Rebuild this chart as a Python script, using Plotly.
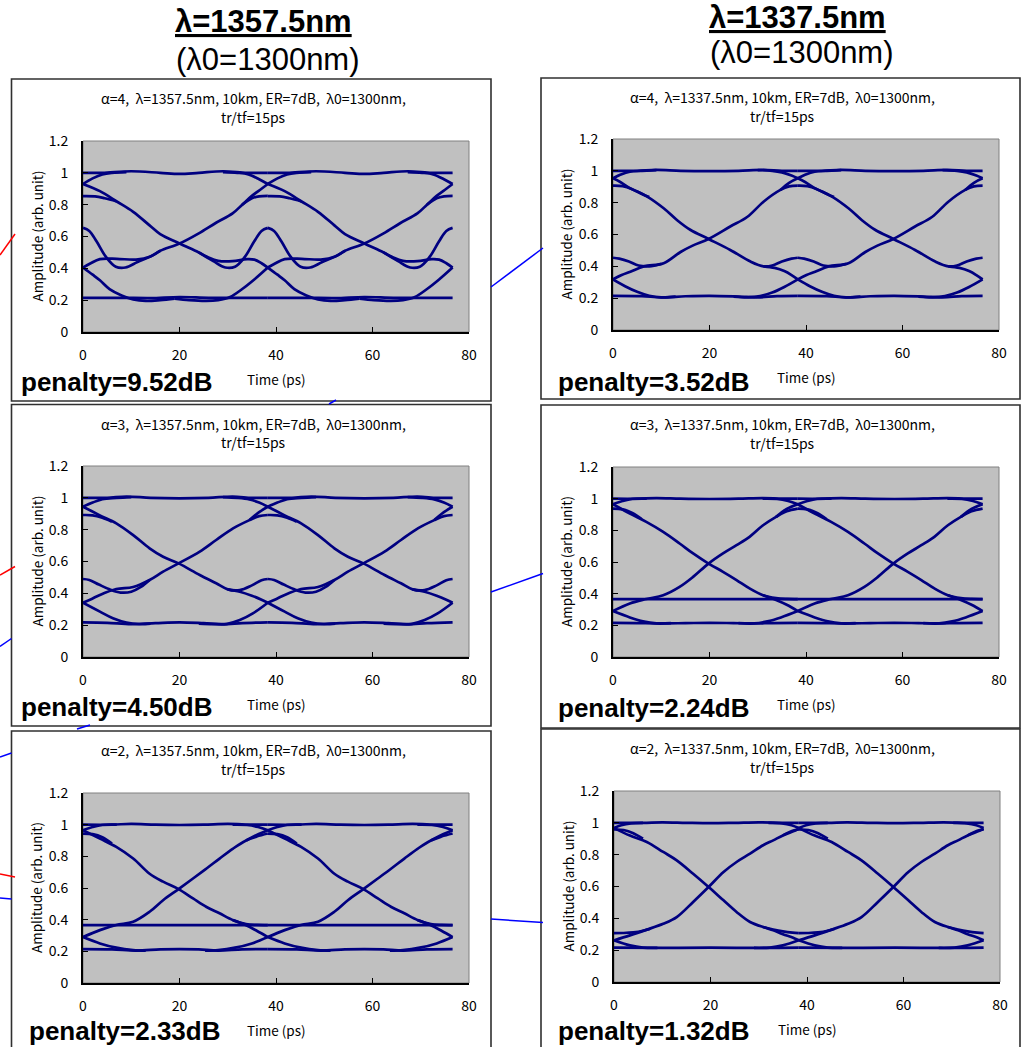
import plotly.graph_objects as go

# ---------------------------------------------------------------- data
UI = 38.3  # one bit slot (ps); each eye shows two slots

ALPHAS = [4, 4, 3, 3, 2, 2]
WAVELENGTHS = ["1357.5", "1337.5", "1357.5", "1337.5", "1357.5", "1337.5"]
PENALTIES = ["9.52", "3.52", "4.50", "2.24", "2.33", "1.32"]
COLUMN_HEADS = ["1357.5", "1337.5"]

X_TICKS = [0, 20, 40, 60, 80]
Y_TICKS = [0, 0.2, 0.4, 0.6, 0.8, 1.0, 1.2]
Y_TICK_LABELS = ["0", "0.2", "0.4", "0.6", "0.8", "1", "1.2"]

# Eye traces over one bit slot: lists of (time ps, amplitude)
EYE_A4_1357 = [
    [(0, 1.0), (4, 1.0), (10, 1.01), (16, 1.0), (20, 0.993), (24, 1.0), (29, 1.01), (34, 1.0), (38.3, 1.0)],
    [(0, 0.215), (8, 0.215), (14, 0.213), (20, 0.22), (26, 0.215), (32, 0.215), (38.3, 0.215)],
    [(0, 0.93), (2, 0.965), (4, 0.99), (6, 1.0), (9, 1.005)],
    [(29, 1.005), (32, 1.0), (34.3, 0.99), (36.5, 0.96), (38.3, 0.93)],
    [(0, 0.93), (3.5, 0.885), (7, 0.82), (10.4, 0.755), (13.8, 0.67), (16, 0.615), (20, 0.556), (24, 0.5),
     (26, 0.468), (28, 0.447), (31, 0.445), (34, 0.458), (35.5, 0.455), (37, 0.432), (38.3, 0.405)],
    [(24, 0.5), (27, 0.445), (29.5, 0.405), (31.5, 0.41), (33.5, 0.47), (35.5, 0.57), (37, 0.635), (38.3, 0.654)],
    [(0, 0.654), (1.3, 0.635), (2.8, 0.57), (4.8, 0.47), (6.8, 0.41), (8.8, 0.405), (11.3, 0.44), (14, 0.475), (16, 0.51)],
    [(0, 0.854), (2.5, 0.852), (4.5, 0.84), (7, 0.82)],
    [(0, 0.405), (1.5, 0.43), (3.5, 0.458), (7, 0.46), (11, 0.455), (14, 0.475), (16, 0.51), (20, 0.556),
     (24, 0.62), (27.5, 0.685), (31, 0.745), (33, 0.8), (35, 0.855), (37, 0.9), (38.3, 0.93)],
    [(33, 0.8), (35, 0.84), (36.5, 0.852), (38.3, 0.855)],
    [(0, 0.405), (2, 0.36), (3.5, 0.325), (5.5, 0.27), (8, 0.23), (10.4, 0.205), (13, 0.195), (16, 0.2), (19, 0.21)],
    [(19, 0.21), (22, 0.2), (25.5, 0.195), (28, 0.2), (30.5, 0.22), (33, 0.27), (35.5, 0.33), (38.3, 0.405)],
]

EYE_A4_1337 = [
    [(0, 1.0), (5, 1.0), (9, 1.006), (14, 1.0), (20, 0.998), (26, 1.0), (31, 1.006), (35, 1.0), (38.3, 1.0)],
    [(0, 0.215), (6, 0.213), (10, 0.205), (15, 0.212), (20, 0.215), (26, 0.21), (30, 0.205), (34, 0.213), (38.3, 0.215)],
    [(0, 0.953), (1.5, 0.975), (3.5, 0.995), (6, 1.0), (9, 1.005)],
    [(30, 1.005), (33, 1.0), (35, 0.99), (37, 0.97), (38.3, 0.953)],
    [(0, 0.953), (1.5, 0.93), (3.6, 0.89), (7, 0.84), (10.5, 0.765), (13.3, 0.69), (16, 0.63), (19.8, 0.572),
     (24.3, 0.503), (28.5, 0.43), (31.2, 0.40), (33, 0.405), (35, 0.43), (37, 0.448), (38.3, 0.454)],
    [(31.2, 0.40), (33.5, 0.39), (35.5, 0.37), (37, 0.345), (38.3, 0.318)],
    [(0, 0.907), (2, 0.904), (4, 0.885), (6, 0.855), (7.5, 0.835)],
    [(0, 0.318), (1.8, 0.345), (3.6, 0.366), (6.4, 0.40), (10.5, 0.42), (14, 0.49), (16.5, 0.53), (19.8, 0.572),
     (24.3, 0.65), (27.8, 0.71), (31.2, 0.806), (34.7, 0.88), (36.5, 0.902), (38.3, 0.907)],
    [(34.7, 0.88), (36.5, 0.925), (38.3, 0.953)],
    [(0, 0.454), (1.3, 0.448), (3.3, 0.43), (5.3, 0.405), (7.5, 0.40), (10, 0.415)],
    [(0, 0.318), (2.5, 0.275), (5, 0.24), (7.5, 0.215), (10, 0.205), (13, 0.21)],
    [(25, 0.21), (28, 0.205), (30.5, 0.213), (33, 0.235), (35.5, 0.27), (38.3, 0.318)],
]

EYE_A3_1357 = [
    [(0, 1.0), (5, 1.0), (9, 1.008), (14, 1.0), (20, 0.997), (26, 1.0), (31, 1.008), (35, 1.0), (38.3, 1.0)],
    [(0, 0.218), (5, 0.215), (10, 0.207), (15, 0.213), (20, 0.218), (25, 0.213), (29, 0.207), (33, 0.213), (38.3, 0.218)],
    [(0, 0.944), (2, 0.97), (4, 0.992), (7, 1.0), (10, 1.005)],
    [(29, 1.005), (32, 1.0), (34.5, 0.99), (36.5, 0.97), (38.3, 0.944)],
    [(0, 0.944), (3.5, 0.89), (6.9, 0.84), (10.4, 0.766), (13.8, 0.683), (16.6, 0.63), (19.8, 0.588),
     (24.2, 0.515), (27.6, 0.463), (30, 0.425), (32.5, 0.42), (35, 0.45), (37, 0.482), (38.3, 0.49)],
    [(30, 0.425), (32.5, 0.41), (35, 0.385), (37, 0.36), (38.3, 0.341)],
    [(0, 0.892), (2, 0.89), (4, 0.875), (6, 0.85)],
    [(0, 0.341), (1.8, 0.365), (3.5, 0.39), (6.9, 0.427), (10.4, 0.44), (13.8, 0.484), (16.6, 0.536),
     (19.8, 0.588), (24.2, 0.662), (27.6, 0.735), (31.1, 0.808), (34.5, 0.86), (36.5, 0.885), (38.3, 0.892)],
    [(34.5, 0.86), (36.5, 0.91), (38.3, 0.944)],
    [(0, 0.49), (1.3, 0.484), (3.3, 0.455), (5.5, 0.425), (7.8, 0.405), (10, 0.41), (12, 0.44), (13.8, 0.484)],
    [(0, 0.341), (3.5, 0.285), (6.2, 0.243), (9, 0.216), (11.7, 0.207), (14, 0.21)],
    [(24, 0.21), (27, 0.207), (29.7, 0.207), (32.5, 0.232), (35.2, 0.274), (38.3, 0.341)],
]

EYE_A3_1337 = [
    [(0, 1.0), (5, 1.0), (9, 1.004), (14, 1.0), (20, 0.998), (26, 1.0), (31, 1.004), (35, 1.0), (38.3, 1.0)],
    [(0, 0.216), (5, 0.214), (10, 0.212), (15, 0.214), (20, 0.216), (25, 0.214), (29, 0.212), (33, 0.214), (38.3, 0.216)],
    [(0, 0.965), (2, 0.985), (4, 0.998), (7, 1.0)],
    [(31, 1.0), (34, 0.998), (36.3, 0.985), (38.3, 0.965)],
    [(0, 0.965), (3.5, 0.906), (6.9, 0.853), (10.4, 0.79), (13.8, 0.717), (16.6, 0.654), (19.8, 0.59),
     (22.8, 0.538), (25.6, 0.486), (28.3, 0.433), (31.1, 0.39), (33.8, 0.372), (36, 0.367), (38.3, 0.366)],
    [(31.1, 0.39), (33.8, 0.36), (36, 0.33), (38.3, 0.29)],
    [(0, 0.366), (38.3, 0.366)],
    [(0, 0.29), (3.5, 0.338), (6.9, 0.366), (10.4, 0.39), (13.8, 0.443), (16.6, 0.506), (19.8, 0.59),
     (22.8, 0.654), (25.6, 0.706), (28.3, 0.759), (31.1, 0.832), (33.8, 0.885), (36, 0.92), (38.3, 0.937)],
    [(33.8, 0.885), (36, 0.935), (38.3, 0.965)],
    [(0, 0.937), (2, 0.932), (4, 0.91), (6, 0.87)],
    [(0, 0.29), (3.5, 0.25), (6.2, 0.225), (9, 0.212), (12, 0.214)],
    [(26, 0.214), (29.3, 0.212), (32, 0.225), (34.8, 0.25), (38.3, 0.29)],
]

EYE_A2_1357 = [
    [(0, 1.0), (6, 1.0), (10, 1.005), (15, 1.0), (20, 0.998), (25, 1.0), (30, 1.005), (35, 1.0), (38.3, 1.0)],
    [(0, 0.214), (6, 0.212), (11, 0.205), (16, 0.212), (20, 0.214), (24, 0.212), (28, 0.205), (33, 0.212), (38.3, 0.214)],
    [(0, 0.965), (2, 0.985), (4, 0.998), (7, 1.0)],
    [(31, 1.0), (34, 0.998), (36.3, 0.985), (38.3, 0.965)],
    [(0, 0.965), (3.5, 0.912), (6.9, 0.86), (10.4, 0.786), (13.8, 0.69), (16.6, 0.64), (19.8, 0.593),
     (22.8, 0.534), (25.6, 0.48), (28.3, 0.44), (31.1, 0.397), (33.8, 0.372), (36, 0.367), (38.3, 0.366)],
    [(31.1, 0.397), (33.8, 0.365), (36, 0.33), (38.3, 0.29)],
    [(0, 0.366), (38.3, 0.366)],
    [(0, 0.29), (3.5, 0.334), (6.9, 0.366), (10.4, 0.387), (13.8, 0.45), (16.6, 0.523), (19.8, 0.593),
     (22.8, 0.66), (25.6, 0.723), (28.3, 0.786), (31.1, 0.849), (33.8, 0.9), (36, 0.925), (38.3, 0.944)],
    [(33.8, 0.9), (36, 0.935), (38.3, 0.965)],
    [(0, 0.944), (2, 0.94), (4, 0.92), (6, 0.88)],
    [(0, 0.29), (3.5, 0.25), (6.9, 0.223), (10.4, 0.208), (13, 0.205)],
    [(25.3, 0.205), (28, 0.208), (31.5, 0.223), (35, 0.25), (38.3, 0.29)],
]

EYE_A2_1337 = [
    [(0, 1.0), (6, 1.0), (10, 1.003), (15, 1.0), (20, 0.998), (25, 1.0), (30, 1.003), (35, 1.0), (38.3, 1.0)],
    [(0, 0.216), (10, 0.214), (20, 0.216), (29, 0.214), (38.3, 0.216)],
    [(0, 0.967), (1.5, 0.985), (3.5, 0.997), (6, 1.0)],
    [(32, 1.0), (34.8, 0.997), (36.8, 0.985), (38.3, 0.967)],
    [(0, 0.967), (3.3, 0.92), (6.8, 0.88), (10.2, 0.817), (13, 0.764), (16.4, 0.68), (19.6, 0.597),
     (22.7, 0.513), (25.4, 0.44), (28.2, 0.377), (30.9, 0.346), (33, 0.33), (35, 0.318), (37, 0.31), (38.3, 0.307)],
    [(30.9, 0.346), (33, 0.325), (35, 0.3), (37, 0.28), (38.3, 0.262)],
    [(0, 0.262), (3.3, 0.293), (6.8, 0.329), (10.2, 0.366), (13, 0.408), (16.4, 0.503), (19.6, 0.597),
     (22.7, 0.691), (25.4, 0.754), (28.2, 0.806), (30.9, 0.859), (33, 0.89), (35, 0.921), (37, 0.945), (38.3, 0.963)],
    [(35, 0.921), (37, 0.95), (38.3, 0.958)],
    [(0, 0.958), (2, 0.955), (4, 0.935), (6, 0.9)],
    [(0, 0.307), (2, 0.308), (4, 0.312), (6, 0.322), (7.5, 0.335)],
    [(0, 0.262), (3.3, 0.23), (6, 0.216), (9, 0.214)],
    [(29, 0.214), (32.3, 0.216), (35, 0.23), (38.3, 0.262)],
]

EYES = [EYE_A4_1357, EYE_A4_1337, EYE_A3_1357, EYE_A3_1337, EYE_A2_1357, EYE_A2_1337]

# ---------------------------------------------------------------- layout (pixels)
W, H = 1023, 1047
NAVY = "#000080"
CJK = "Noto Sans CJK JP"
SANS = "Liberation Sans, Arial"

PLOT_PX = [(83, 469, 141, 332), (613, 999, 139, 330),
           (83, 469, 466, 657), (613, 999, 467, 657),
           (83, 469, 793, 983), (614, 1000, 791, 982)]
FRAME_PX = [(11.5, 491, 79, 401), (541, 1020, 78, 399),
            (11.5, 491, 404.5, 726), (541, 1020, 405, 728),
            (11.5, 491, 731, 1070), (541, 1020, 729, 1070)]
PENALTY_PX = [(19, 382), (556, 382), (19, 707), (556, 708), (27, 1031), (556, 1031)]


def px(x):
    return x / W


def py(y):
    return 1 - y / H


fig = go.Figure()
layout = {}
shapes = []
annotations = []

for i, eye in enumerate(EYES):
    n = i + 1
    xa = "x" if n == 1 else f"x{n}"
    ya = "y" if n == 1 else f"y{n}"
    x0, x1, y0, y1 = PLOT_PX[i]

    for stroke in eye:
        t = [p[0] for p in stroke]
        a = [p[1] for p in stroke]
        for slot in range(2):
            fig.add_trace(go.Scatter(
                x=[v + slot * UI for v in t], y=a, mode="lines",
                line=dict(color=NAVY, width=2.7, shape="spline", smoothing=1.0),
                xaxis=xa, yaxis=ya, hoverinfo="skip", showlegend=False))

    layout["xaxis" if n == 1 else f"xaxis{n}"] = dict(
        domain=[px(x0), px(x1)], anchor=ya, range=[0, 80],
        tickvals=X_TICKS, ticks="inside", ticklen=5, tickwidth=1, tickcolor="black",
        showline=True, linecolor="black", linewidth=2, showgrid=False, zeroline=False,
        tickfont=dict(family=CJK, size=14, color="black"), ticklabelstandoff=9,
        automargin=False, fixedrange=True)
    layout["yaxis" if n == 1 else f"yaxis{n}"] = dict(
        domain=[py(y1), py(y0)], anchor=xa, range=[0, 1.2],
        tickvals=Y_TICKS, ticktext=Y_TICK_LABELS, ticks="inside", ticklen=5, tickwidth=1,
        tickcolor="black", showline=True, linecolor="black", linewidth=2,
        showgrid=False, zeroline=False,
        tickfont=dict(family=CJK, size=14, color="black"), ticklabelstandoff=10,
        automargin=False, fixedrange=True)

    # light frame round the plot area
    shapes.append(dict(type="rect", xref="paper", yref="paper", layer="below",
                       x0=px(x0), x1=px(x1), y0=py(y1), y1=py(y0),
                       line=dict(color="#808080", width=1)))
    # outer chart frame
    fx0, fx1, fy0, fy1 = FRAME_PX[i]
    shapes.append(dict(type="rect", xref="paper", yref="paper",
                       x0=px(fx0), x1=px(fx1), y0=py(fy1), y1=py(fy0),
                       line=dict(color="#303030", width=1.6)))

    cx = (fx0 + fx1) / 2 + 2
    annotations.append(dict(
        x=px(cx), y=py(fy0 + 19), xref="paper", yref="paper", showarrow=False,
        xanchor="center", yanchor="middle",
        text=f"α=4,  λ=1357.5nm".replace("4", str(ALPHAS[i]), 1).replace("1357.5", WAVELENGTHS[i])
        + ", 10km, ER=7dB,  λ0=1300nm,",
        font=dict(family=CJK, size=14, color="black")))
    annotations.append(dict(
        x=px(cx), y=py(fy0 + 38), xref="paper", yref="paper", showarrow=False,
        xanchor="center", yanchor="middle", text="tr/tf=15ps",
        font=dict(family=CJK, size=14, color="black")))
    annotations.append(dict(
        x=px(x0 - 47), y=py((y0 + y1) / 2), xref="paper", yref="paper", showarrow=False,
        xanchor="center", yanchor="middle", textangle=-90, text="Amplitude (arb. unit)",
        font=dict(family=CJK, size=13.5, color="black")))
    annotations.append(dict(
        x=px((x0 + x1) / 2), y=py(y1 + 47), xref="paper", yref="paper", showarrow=False,
        xanchor="center", yanchor="middle", text="Time (ps)",
        font=dict(family=CJK, size=13.5, color="black")))
    lx, ly = PENALTY_PX[i]
    annotations.append(dict(
        x=px(lx), y=py(ly), xref="paper", yref="paper", showarrow=False,
        xanchor="left", yanchor="middle", text=f"<b>penalty={PENALTIES[i]}dB</b>",
        font=dict(family=SANS, size=26, color="black")))

# column headings
for cx, y_head, y_sub, wl in [(263, 22, 60, COLUMN_HEADS[0]), (797, 17, 53, COLUMN_HEADS[1])]:
    annotations.append(dict(
        x=px(cx), y=py(y_head), xref="paper", yref="paper", showarrow=False,
        xanchor="center", yanchor="middle", text=f"<b><u>λ={wl}nm</u></b>",
        font=dict(family=SANS, size=31, color="black"), borderpad=0))
    annotations.append(dict(
        x=px(cx + 5), y=py(y_sub), xref="paper", yref="paper", showarrow=False,
        xanchor="center", yanchor="middle", text="(λ0=1300nm)",
        font=dict(family=SANS, size=31, color="black"), borderpad=0))

# connector strokes running in from neighbouring slide elements
CONNECTORS = [
    ("red", 0, 255, 15, 234), ("red", 0, 575, 15, 566.5), ("red", 0, 874, 15, 877),
    ("blue", 0, 646.5, 11.5, 638.5), ("blue", 0, 757, 11.5, 753), ("blue", 0, 898, 11.5, 899),
    ("blue", 491, 287, 543, 248), ("blue", 491, 592, 543, 573.5), ("blue", 491, 919, 543, 922.5),
    ("blue", 329, 404, 336, 400), ("blue", 77, 729, 90, 725),
]
for col, ax0, ay0, ax1, ay1 in CONNECTORS:
    shapes.append(dict(type="line", xref="paper", yref="paper",
                       x0=px(ax0), y0=py(ay0), x1=px(ax1), y1=py(ay1),
                       line=dict(color="#ff0000" if col == "red" else "#0000ff", width=1.5)))

fig.update_layout(
    width=W, height=H, margin=dict(l=0, r=0, t=0, b=0, pad=0, autoexpand=False),
    paper_bgcolor="white", plot_bgcolor="#C0C0C0", showlegend=False,
    shapes=shapes, annotations=annotations, **layout)

# page sized exactly to the figure
fig.write_html("out.html", config={"responsive": False},
               post_script="document.body.style.margin='0px';"
                           "document.body.style.overflow='hidden';")
